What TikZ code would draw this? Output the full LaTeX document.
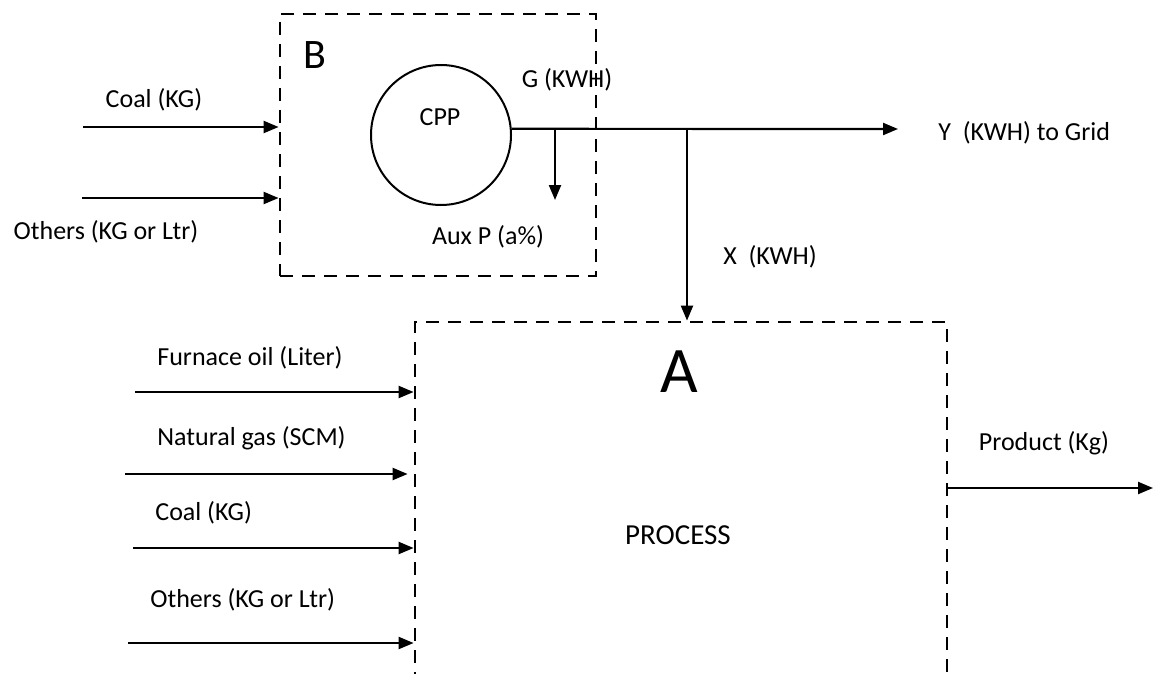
\documentclass[tikz,border=0pt]{standalone}
\usepackage{fontspec}
\setmainfont{Carlito}
\usetikzlibrary{arrows.meta}

\tikzset{
  flow/.style={line width=1.1pt, ->},
  dashbox/.style={draw, line width=1.4pt, dash pattern=on 6.5pt off 4.5pt, inner sep=0pt},
  lbl/.style={font=\fontsize{13}{15}\selectfont, inner sep=0pt}
}

\begin{document}
\begin{tikzpicture}[x=0.5pt, y=-0.5pt, >={Triangle[length=7.5pt, width=6pt]}]
  \useasboundingbox (0,0) rectangle (1156,674);

  % Boundary B: captive power plant
  \node[dashbox, minimum width=158pt, minimum height=131pt] (boxB) at (438,145) {};
  \node[inner sep=0pt, font=\fontsize{21}{25}\selectfont] (labB) at (315,55) {B};

  % Boundary A: process (runs off the bottom edge)
  \node[dashbox, minimum width=266pt, minimum height=184pt] (boxA) at (681,506) {};
  \node[inner sep=0pt, font=\fontsize{32.5}{38}\selectfont] (labA) at (679,372) {A};
  \node[inner sep=0pt, font=\fontsize{14.5}{17}\selectfont] (proc) at (678,535) {PROCESS};

  % CPP circle
  \node[draw, circle, line width=1pt, minimum size=70pt, inner sep=0pt] (cpp) at (441,135) {};
  \node[lbl] (cpptxt) at (440,117) {CPP};
  \node[lbl] (gen) at (567,80) {G (KWH)};
  \node[lbl] (aux) at (488,237) {Aux P (a\%)};

  % Generation line and its branches
  \coordinate (auxsplit) at (555,129);
  \coordinate (auxend) at (555,200);
  \coordinate (xsplit) at (687,129);
  \coordinate (grid) at (898,129);
  \draw[flow] (cpp.5) -- (grid);
  \draw[flow] (auxsplit) -- (auxend);
  \draw[flow] (xsplit) -- (xsplit |- boxA.north);
  \node[lbl, anchor=west] (gridtxt) at (938,133) {Y\ \ (KWH) to Grid};
  \node[lbl] (xtxt) at (770,257) {X\ \ (KWH)};

  % Inputs to B
  \coordinate (coalB) at (83,127);
  \coordinate (othB) at (82,198);
  \draw[flow] (coalB) -- (coalB -| boxB.west);
  \draw[flow] (othB) -- (othB -| boxB.west);
  \node[lbl] (coalBtxt) at (154,100) {Coal (KG)};
  \node[lbl] (othBtxt) at (106,232) {Others (KG or Ltr)};

  % Inputs to A
  \coordinate (oilA) at (135,392);
  \coordinate (gasA) at (125,474);
  \coordinate (coalA) at (133,548);
  \coordinate (othA) at (128,643);
  \draw[flow] (oilA) -- (oilA -| boxA.west);
  \draw[flow, shorten >=3pt] (gasA) -- (gasA -| boxA.west);
  \draw[flow] (coalA) -- (coalA -| boxA.west);
  \draw[flow] (othA) -- (othA -| boxA.west);
  \node[lbl, anchor=west] (oiltxt) at (157,358) {Furnace oil (Liter)};
  \node[lbl, anchor=west] (gastxt) at (157,438) {Natural gas (SCM)};
  \node[lbl, anchor=west] (coalAtxt) at (155,513) {Coal (KG)};
  \node[lbl, anchor=west] (othAtxt) at (150,600) {Others (KG or Ltr)};

  % Output of A
  \coordinate (prod) at (1153,488);
  \draw[flow] (boxA.east |- prod) -- (prod);
  \node[lbl] (prodtxt) at (1044,443) {Product (Kg)};
\end{tikzpicture}
\end{document}
